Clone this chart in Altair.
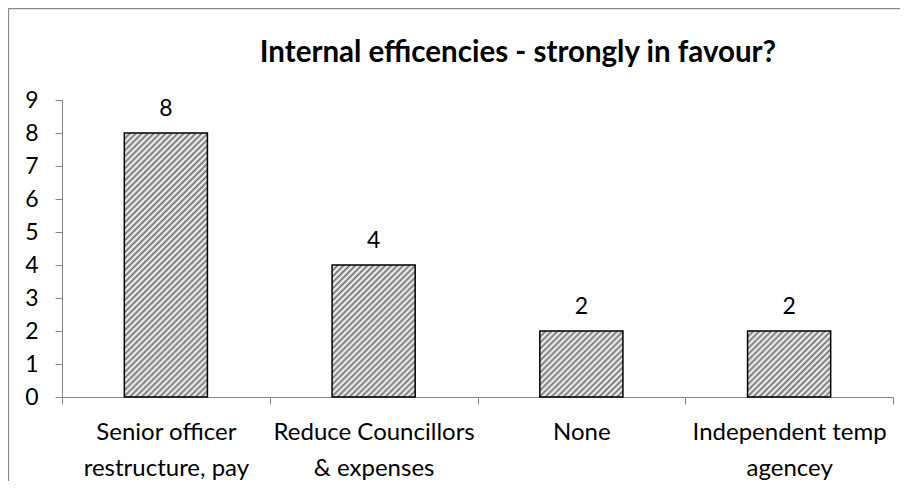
import altair as alt
import pandas as pd

# ---- data -------------------------------------------------------------
categories = [
    "Senior officer\nrestructure, pay",
    "Reduce Councillors\n& expenses",
    "None",
    "Independent temp\nagencey",
]
values = [8, 4, 2, 2]
y_ticks = [0, 1, 2, 3, 4, 5, 6, 7, 8, 9]
title_text = "Internal efficencies - strongly in favour?"

df = pd.DataFrame({"category": categories, "value": values})

# ---- layout ------------------------------------------------------------
W, H = 831, 297
PAD = {"left": 54, "top": 92, "right": 7, "bottom": 84}
FONT = "Lato"
AXIS_GRAY = "#868686"
BAR_FRAC = 0.4


def hatch(v):
    """45-degree diagonal hatch as a striped linear gradient for a bar of value v."""
    w = W / len(categories) * BAR_FRAC
    h = v * H / 9.0
    k = (w + h) / (w * w + h * h)
    n = max(1, round((w + h) / 6.0))
    stops = []
    for i in range(2 * n + 1):
        stops.append({"offset": i / (2 * n), "color": "#737373" if i % 2 == 0 else "#ffffff"})
    return {"gradient": "linear", "x1": 0, "y1": 0, "x2": w * k, "y2": h * k, "stops": stops}


x_enc = alt.X(
    "category:N",
    sort=categories,
    scale=alt.Scale(domain=categories, paddingInner=0, paddingOuter=0),
    axis=alt.Axis(
        title=None,
        labelAngle=0,
        labelExpr="split(datum.label, '\\n')",
        labelFont=FONT,
        labelFontSize=24,
        labelColor="black",
        labelLineHeight=36,
        labelPadding=16,
        labelBaseline="top",
        labelLimit=400,
        tickBand="extent",
        tickSize=7,
        tickColor=AXIS_GRAY,
        domainColor=AXIS_GRAY,
        grid=False,
    ),
)
y_enc = alt.Y(
    "value:Q",
    scale=alt.Scale(domain=[0, 9], nice=False),
    axis=alt.Axis(
        title=None,
        values=y_ticks,
        labelFont=FONT,
        labelFontSize=23,
        labelColor="black",
        labelPadding=17,
        tickSize=7,
        tickColor=AXIS_GRAY,
        domainColor=AXIS_GRAY,
        grid=False,
    ),
)

base = alt.Chart(df).encode(x=x_enc, y=y_enc)

bars = [
    base.transform_filter(alt.FieldEqualPredicate(field="category", equal=c)).mark_bar(
        fill=hatch(v), stroke="black", strokeWidth=1.5, width=alt.RelativeBandSize(BAR_FRAC)
    )
    for c, v in zip(categories, values)
]

labels = base.mark_text(dy=-17, baseline="alphabetic", font=FONT, fontSize=23, color="black").encode(
    text="value:Q"
)

one = alt.Data(values=[{"t": title_text}])
frame = alt.Chart(one).mark_rect(fill="transparent", stroke="#8a8a8a", strokeWidth=1.3).encode(
    x=alt.value(-PAD["left"] + 0.5),
    x2=alt.value(W + PAD["right"] + 10),
    y=alt.value(-PAD["top"] + 0.5),
    y2=alt.value(H + PAD["bottom"] + 10),
)
title = alt.Chart(one).mark_text(
    font=FONT, fontSize=29.5, fontWeight="bold", color="black", align="center", baseline="alphabetic"
).encode(x=alt.value(456), y=alt.value(-38), text="t:N")

chart = (
    alt.layer(frame, title, *bars, labels)
    .properties(width=W, height=H, autosize=alt.AutoSizeParams(type="none"), padding=PAD)
    .configure_view(stroke=None)
)

chart.save("out.html", embed_options={"renderer": "svg", "actions": False})
